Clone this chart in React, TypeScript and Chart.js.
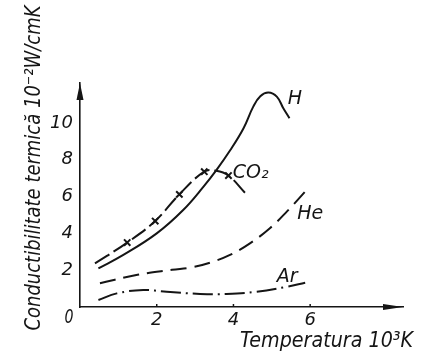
import React, { useEffect, useRef } from "react";
import { Chart, registerables } from "chart.js";
Chart.register(...registerables);

const X_TICKS = [2, 4, 6];
const Y_TICKS = [2, 4, 6, 8, 10];
const X_MAX = 8.42;
const Y_MAX = 12.17;

const H_X = [0.48, 1.13, 2.0, 2.69, 3.22, 3.56, 3.91, 4.26, 4.52, 4.7, 4.91, 5.13, 5.3, 5.46];
const H_Y = [2.1, 2.83, 4.0, 5.27, 6.54, 7.45, 8.5, 9.7, 10.9, 11.45, 11.65, 11.43, 10.8, 10.26];
const CO2_X = [0.39, 1.23, 1.96, 2.59, 3.24, 3.55, 3.87, 4.3];
const CO2_Y = [2.37, 3.5, 4.67, 6.12, 7.35, 7.4, 7.14, 6.21];
const CO2_MARK = [0, 1, 1, 1, 1, 0, 1, 0];
const HE_X = [0.52, 1.5, 2.4, 2.9, 3.39, 3.91, 4.43, 4.95, 5.39, 5.91];
const HE_Y = [1.29, 1.75, 2.02, 2.15, 2.41, 2.83, 3.46, 4.28, 5.18, 6.36];
const AR_X = [0.48, 0.96, 1.65, 2.26, 3.13, 3.82, 4.6, 5.39, 5.87];
const AR_Y = [0.38, 0.74, 0.92, 0.83, 0.71, 0.71, 0.83, 1.1, 1.32];

const SERIES_LABELS = ["H", "CO₂", "He", "Ar"];
const LABEL_X = [5.6, 4.45, 6.0, 5.4];
const LABEL_Y = [11.3, 7.25, 5.05, 1.65];

const X_TITLE = "Temperatura 10³K";
const Y_TITLE = "Conductibilitate termică 10⁻²W/cmK";

const FAMILY = '"DejaVu Sans", sans-serif';
const INK = "#151515";

const pts = (xs: number[], ys: number[]) => xs.map((x, i) => ({ x, y: ys[i] }));

const decorPlugin = {
  id: "decor",
  afterDraw(chart: any) {
    const { ctx, scales } = chart;
    const xs = scales.x;
    const ys = scales.y;
    const x0 = xs.getPixelForValue(0);
    const y0 = ys.getPixelForValue(0);
    const xEnd = xs.getPixelForValue(X_MAX);
    const yEnd = ys.getPixelForValue(Y_MAX);
    ctx.save();
    ctx.fillStyle = INK;
    ctx.strokeStyle = INK;
    // arrow heads
    ctx.beginPath();
    ctx.moveTo(x0, yEnd);
    ctx.lineTo(x0 - 3.5, yEnd + 17);
    ctx.lineTo(x0 + 3.5, yEnd + 17);
    ctx.closePath();
    ctx.fill();
    ctx.beginPath();
    ctx.moveTo(xEnd, y0);
    ctx.lineTo(xEnd - 20, y0 - 3);
    ctx.lineTo(xEnd - 20, y0 + 3);
    ctx.closePath();
    ctx.fill();
    // small tick marks on x axis
    ctx.lineWidth = 1.5;
    X_TICKS.forEach((v) => {
      const px = xs.getPixelForValue(v);
      ctx.beginPath();
      ctx.moveTo(px, y0);
      ctx.lineTo(px, y0 - 3);
      ctx.stroke();
    });
    // series labels
    ctx.font = `italic 19px ${FAMILY}`;
    ctx.textAlign = "center";
    ctx.textBaseline = "middle";
    SERIES_LABELS.forEach((t, i) => {
      ctx.fillText(t, xs.getPixelForValue(LABEL_X[i]), ys.getPixelForValue(LABEL_Y[i]));
    });
    // origin label
    ctx.font = `italic 19px ${FAMILY}`;
    ctx.fillText("0", x0 - 11, y0 + 11, 9);
    // axis titles
    ctx.font = `italic 21px ${FAMILY}`;
    ctx.textAlign = "right";
    ctx.fillText(X_TITLE, 413, 342, 173);
    ctx.save();
    ctx.translate(34, 168);
    ctx.rotate(-Math.PI / 2);
    ctx.textAlign = "center";
    ctx.font = `italic 22px ${FAMILY}`;
    ctx.fillText(Y_TITLE, 0, 0, 325);
    ctx.restore();
    ctx.restore();
  },
};

export default function App() {
  const ref = useRef<HTMLCanvasElement | null>(null);
  useEffect(() => {
    if (!ref.current) return;
    const line = (data: any, dash: number[], extra: any = {}) => ({
      data,
      borderColor: INK,
      backgroundColor: INK,
      borderWidth: 2,
      borderDash: dash,
      pointRadius: 0,
      fill: false,
      tension: 0.4,
      ...extra,
    });
    const chart = new Chart(ref.current, {
      type: "line",
      data: {
        datasets: [
          line(pts(H_X, H_Y), [], { label: "H" }),
          line(pts(CO2_X, CO2_Y), [17, 5], {
            label: "CO2",
            pointRadius: CO2_MARK.map((m) => (m ? 4.5 : 0)),
            pointStyle: "crossRot",
            pointBorderWidth: 2,
            pointBorderColor: INK,
          }),
          line(pts(HE_X, HE_Y), [16, 8], { label: "He" }),
          line(pts(AR_X, AR_Y), [20, 5, 2, 5], { label: "Ar" }),
        ],
      },
      options: {
        animation: false,
        responsive: true,
        maintainAspectRatio: false,
        layout: { padding: { top: 83, right: 25, left: 0, bottom: 0 } },
        plugins: { legend: { display: false }, tooltip: { enabled: false } },
        scales: {
          x: {
            type: "linear",
            min: 0,
            max: X_MAX,
            grid: { display: false, drawTicks: false },
            border: { display: true, color: INK, width: 1.6 },
            afterBuildTicks: (s: any) => {
              s.ticks = X_TICKS.map((v) => ({ value: v }));
            },
            afterFit: (s: any) => {
              s.height = 51;
            },
            ticks: {
              color: INK,
              padding: 3,
              maxRotation: 0,
              font: { family: FAMILY, size: 18, style: "italic" },
            },
          },
          y: {
            type: "linear",
            min: 0,
            max: Y_MAX,
            grid: { display: false, drawTicks: false },
            border: { display: true, color: INK, width: 1.6 },
            afterBuildTicks: (s: any) => {
              s.ticks = Y_TICKS.map((v) => ({ value: v }));
            },
            afterFit: (s: any) => {
              s.width = 80;
            },
            ticks: {
              color: INK,
              padding: 7,
              font: { family: FAMILY, size: 18, style: "italic" },
            },
          },
        },
      },
      plugins: [decorPlugin],
    });
    return () => chart.destroy();
  }, []);
  return (
    <div style={{ position: "absolute", left: 0, top: 0, width: 428, height: 358, background: "#fff" }}>
      <canvas ref={ref} />
    </div>
  );
}
